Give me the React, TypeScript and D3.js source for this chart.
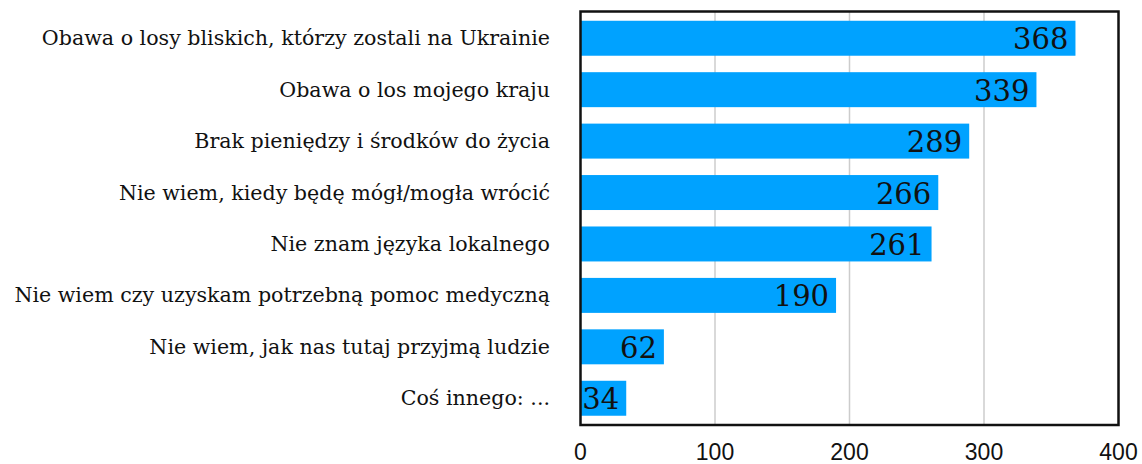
import React from "react";
import * as d3 from "d3";

const categories = [
  "Obawa o losy bliskich, którzy zostali na Ukrainie",
  "Obawa o los mojego kraju",
  "Brak pieniędzy i środków do życia",
  "Nie wiem, kiedy będę mógł/mogła wrócić",
  "Nie znam języka lokalnego",
  "Nie wiem czy uzyskam potrzebną pomoc medyczną",
  "Nie wiem, jak nas tutaj przyjmą ludzie",
  "Coś innego: ...",
];
const values = [368, 339, 289, 266, 261, 190, 62, 34];
const xTicks = [0, 100, 200, 300, 400];

const W = 1142;
const H = 464;
const left = 580.5;
const right = 1118.5;
const top = 11.5;
const bottom = 425;

export default function App() {
  const x = d3.scaleLinear().domain([0, 400]).range([left, right]);
  const y = d3
    .scaleBand<string>()
    .domain(categories)
    .range([top, bottom])
    .paddingInner(0.32)
    .paddingOuter(0.18);
  const serif = "Georgia, 'DejaVu Serif', serif";
  return (
    <svg
      width={W}
      height={H}
      style={{ position: "absolute", left: 0, top: 0, background: "#fff" }}
    >
      {xTicks.slice(1, -1).map((t) => (
        <line
          key={"g" + t}
          x1={x(t)}
          x2={x(t)}
          y1={top}
          y2={bottom}
          stroke="#cccccc"
          strokeWidth={1.5}
        />
      ))}
      {categories.map((c, i) => (
        <rect
          key={"b" + c}
          x={x(0)}
          y={y(c)}
          width={x(values[i]) - x(0)}
          height={y.bandwidth()}
          fill="#00a2ff"
        />
      ))}
      {categories.map((c, i) => (
        <text
          key={"v" + c}
          x={x(values[i]) - 7}
          y={(y(c) as number) + y.bandwidth() / 2 + 11}
          textAnchor="end"
          fontFamily={serif}
          fontSize={29}
          fill="#111"
        >
          {values[i]}
        </text>
      ))}
      {categories.map((c) => (
        <text
          key={"l" + c}
          x={550}
          y={(y(c) as number) + y.bandwidth() / 2 + 7}
          textAnchor="end"
          fontFamily={serif}
          fontSize={20.6}
          fill="#111"
        >
          {c}
        </text>
      ))}
      <rect
        x={left}
        y={top}
        width={right - left}
        height={bottom - top}
        fill="none"
        stroke="#111"
        strokeWidth={2.5}
      />
      {xTicks.map((t) => (
        <text
          key={"t" + t}
          x={x(t)}
          y={460}
          textAnchor="middle"
          fontFamily="'Liberation Sans', Arial, sans-serif"
          fontSize={23}
          fill="#111"
        >
          {t}
        </text>
      ))}
    </svg>
  );
}
